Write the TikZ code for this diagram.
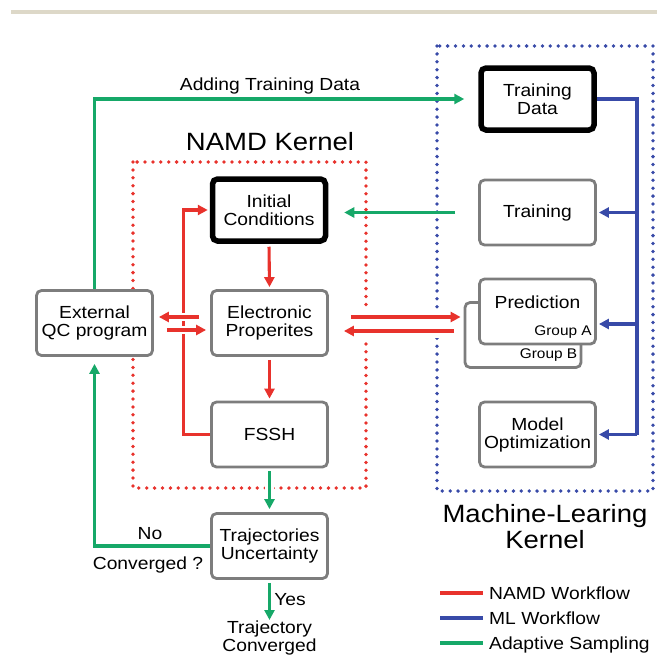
\documentclass[tikz,border=0pt]{standalone}
\usepackage{fontspec}
\setmainfont{Liberation Sans}[FakeStretch=1.1]
\usetikzlibrary{arrows.meta}

\definecolor{namdred}{RGB}{232,50,44}
\definecolor{mlblue}{RGB}{56,74,168}
\definecolor{asgreen}{RGB}{22,168,104}
\definecolor{boxgray}{RGB}{125,125,125}
\definecolor{barbeige}{RGB}{221,216,200}

\newcommand\boxfont{\fontsize{17.5}{18}\selectfont}
\newcommand\titlefont{\fontsize{25}{26}\selectfont}
\newcommand\groupfont{\fontsize{14}{15}\selectfont}

\tikzset{
  box/.style={draw=boxgray, line width=2.8pt, rounded corners=5pt, fill=white,
    align=center, minimum width=116pt, minimum height=65pt, inner sep=2pt, font=\boxfont},
  keybox/.style={box, draw=black, line width=5.5pt, minimum width=113pt, minimum height=62pt},
  grouplabel/.style={anchor=south east, inner sep=0pt, xshift=-5pt, yshift=7pt, font=\groupfont},
  flow/.style={line width=3.1pt, -{Triangle[length=10pt,width=10pt]}},
  namd/.style={flow, namdred},
  ml/.style={flow, mlblue},
  adapt/.style={flow, asgreen},
  whitegap/.style={preaction={draw=white, line width=#1, arrows=-}},
  dotframe/.style={line width=3.8pt, line cap=round, dash pattern=on 0pt off 7.9pt},
}

\begin{document}
\begin{tikzpicture}[x=1pt,y=-1pt]
\useasboundingbox (0,0) rectangle (657,656);

% header rule
\fill[barbeige] (11,10) rectangle (657,14);

% kernel frames
\draw[namdred, dotframe] (133,162) rectangle (366,488);
\draw[mlblue, dotframe] (437,46) rectangle (653,491);
\node[anchor=base, font=\titlefont] (namdtitle) at (270,150) {NAMD Kernel};
\node[anchor=north, align=center, inner sep=0pt, font=\titlefont] (mltitle) at (545,504) {Machine-Learing\\Kernel};

% NAMD kernel boxes
\node[keybox] (init) at (269,210) {Initial\\Conditions};
\node[box] (elec) at (269.5,323) {Electronic\\Properites};
\node[box] (fssh) at (269.5,434.5) {FSSH};
\node[box] (traj) at (269.5,546) {Trajectories\\Uncertainty};
\node[box] (ext) at (94.5,323) {External\\QC program};

% ML kernel boxes
\node[keybox] (tdata) at (537.5,99) {Training\\Data};
\node[box] (train) at (537.5,212.5) {Training};
\node[box, label={[grouplabel]south east:Group B}] (predB) at (523,335) {};
\node[box, text depth=18pt, label={[grouplabel]south east:Group A}] (predA) at (537.5,311.5) {Prediction};
\node[box] (modopt) at (537.5,434.5) {Model\\Optimization};

% NAMD workflow
\draw[namd, shorten <=3pt, shorten >=2pt] (init.south) -- (elec.north);
\draw[namd, shorten <=3pt, shorten >=2pt] (elec.south) -- (fssh.north);
\draw[namd, shorten >=2pt] (fssh.west) -- ++(-27,0) |- (init.west);
\draw[namd, whitegap=8pt, shorten <=11pt, shorten >=5pt] ([yshift=6pt]elec.west) -- ([yshift=6pt]elec.west -| ext.east);
\draw[namd, whitegap=8pt, shorten <=13pt, shorten >=4pt] ([yshift=-7pt]ext.east) -- ([yshift=-7pt]ext.east -| elec.west);
\draw[namd, whitegap=14pt, shorten <=22pt, shorten >=3pt] ([yshift=6pt]elec.east) -- ([yshift=6pt]elec.east -| predB.west);
\draw[namd, whitegap=14pt, shorten <=10pt, shorten >=15pt] ([yshift=-8pt]elec.east -| predB.west) -- ([yshift=-8pt]elec.east);

% ML workflow
\coordinate (mlbus) at (637,99);
\draw[mlblue, line width=3.1pt] (tdata.east) -| (mlbus |- modopt.east);
\draw[ml, shorten >=2pt] (mlbus |- train.east) -- (train.east);
\draw[ml, shorten >=2pt] (mlbus |- 0,324) -- (predA.east |- 0,324);
\draw[ml, shorten >=2pt] (mlbus |- modopt.east) -- (modopt.east);

% adaptive sampling
\draw[adapt, shorten >=14pt] (ext.north) |- (tdata.west);
\node[anchor=base, font=\boxfont] (addlabel) at (270,90) {Adding Training Data};
\draw[adapt, shorten <=23pt, shorten >=16pt] (train.west) -- (train.west -| init.east);
\draw[adapt, whitegap=9pt, shorten <=3pt, shorten >=3pt] (fssh.south) -- (traj.north);
\draw[adapt, shorten >=7pt] (traj.west) -| (ext.south);
\node[anchor=base, font=\boxfont] (nolabel) at (150,539) {No};
\node[anchor=base, font=\boxfont] (convlabel) at (148,569) {Converged ?};
\node[anchor=north, align=center, inner sep=1pt, font=\fontsize{17.5}{15.5}\selectfont] (done) at (269.5,620) {Trajectory\\Converged};
\draw[adapt, shorten <=3pt] (traj.south) -- (done.north) node[midway, anchor=west, text=black, font=\boxfont] (yeslabel) {Yes};

% legend
\foreach \c/\t/\y in {namdred/NAMD Workflow/593, mlblue/ML Workflow/618, asgreen/Adaptive Sampling/643}{
  \draw[\c, line width=3.1pt] (440,\y) -- (483,\y);
  \node[anchor=base west, inner sep=0pt, font=\boxfont] (key-\c) at (489,\y+6) {\t};
}
\end{tikzpicture}
\end{document}
